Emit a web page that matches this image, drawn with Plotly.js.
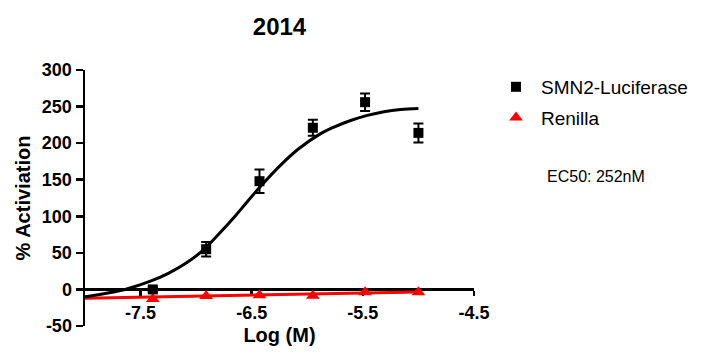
<!DOCTYPE html>
<html>
<head>
<meta charset="utf-8">
<script src="https://cdn.plot.ly/plotly-3.0.1.min.js"></script>
<style>html,body{margin:0;padding:0;background:#fff;}#chart{width:709px;height:354px;}</style>
</head>
<body>
<div id="chart"></div>
<script>
// Measured points (log molar dose)
const logDose = [-7.39, -6.91, -6.43, -5.95, -5.48, -5.0];
const smn2 = [0, 55, 148, 221, 256, 214];
const smn2Err = [3, 10, 16, 11, 12, 13];
const renilla = [-13, -9, -8, -8.5, -4, -4];

// Fitted curves
const smn2FitX = [-8.0, -7.64, -7.40, -7.25, -7.10, -6.95, -6.80, -6.65, -6.54, -6.42, -6.24, -6.08, -5.88, -5.76, -5.61, -5.46, -5.31, -5.16, -5.0];
const smn2FitY = [-10, 0, 12, 22, 35, 52, 75, 100, 120, 141, 170, 192, 213, 222, 231, 238, 243, 246, 247.5];
const renillaFitX = [-8.0, -7.0, -6.0, -5.0];
const renillaFitY = [-12, -9, -6, -3.5];

const xTicks = [-7.5, -6.5, -5.5, -4.5];
const yTicks = [-50, 0, 50, 100, 150, 200, 250, 300];

const FONT = 'Liberation Sans, Arial, sans-serif';

const traces = [
  {x: renillaFitX, y: renillaFitY, mode: 'lines', line: {color: '#ff0000', width: 3}, showlegend: false, hoverinfo: 'skip'},
  {x: logDose, y: renilla, mode: 'markers', name: 'Renilla', legendrank: 2, legendgroup: 'b',
   marker: {symbol: 'triangle-up', size: 12, color: '#ff0000'}},
  {x: smn2FitX, y: smn2FitY, mode: 'lines', line: {color: '#000000', width: 3, shape: 'spline', smoothing: 1}, showlegend: false, hoverinfo: 'skip'},
  {x: logDose, y: smn2, mode: 'markers', name: 'SMN2-Luciferase', legendrank: 1, legendgroup: 'a',
   marker: {symbol: 'square', size: 10, color: '#000000'},
   error_y: {type: 'data', array: smn2Err, visible: true, color: '#000000', thickness: 2, width: 5}}
];

const layout = {
  width: 709, height: 354,
  margin: {l: 85, r: 235, t: 70, b: 28},
  paper_bgcolor: '#ffffff', plot_bgcolor: '#ffffff',
  font: {family: FONT, color: '#000000'},
  title: {text: '<b>2014</b>', font: {size: 24, family: FONT, color: '#000'}, x: 0.5, xref: 'paper', xanchor: 'center', y: 1 - 27/354, yref: 'container', yanchor: 'middle'},
  showlegend: true,
  legend: {x: (491-85)/389, xanchor: 'left', y: 1.008, yanchor: 'top', font: {size: 19, family: FONT}, bgcolor: 'rgba(0,0,0,0)', tracegroupgap: 3, itemwidth: 40},
  xaxis: {
    range: [-8, -4.5], showgrid: false, zeroline: false, showline: true, linecolor: '#000', linewidth: 2.5,
    anchor: 'free', position: 50/350, layer: 'below traces',
    tickmode: 'array', tickvals: xTicks, ticktext: xTicks.map(v => v.toFixed(1)),
    ticks: 'outside', ticklen: 5, tickwidth: 2.5, tickcolor: '#000', ticklabelstandoff: 1,
    tickfont: {size: 18, family: FONT, weight: 'bold'},
    title: {text: '<b>Log (M)</b>', font: {size: 20, family: FONT}, standoff: 6},
    automargin: false
  },
  yaxis: {
    range: [-50, 300], showgrid: false, zeroline: false, showline: true, linecolor: '#000', linewidth: 2.5,
    tickmode: 'array', tickvals: yTicks, ticktext: yTicks.map(String),
    ticks: 'outside', ticklen: 7, tickwidth: 2.5, tickcolor: '#000',
    tickfont: {size: 18, family: FONT, weight: 'bold'},
    title: {text: '<b>% Activiation</b>', font: {size: 20, family: FONT}, standoff: 6},
    automargin: false
  },
  annotations: [
    {text: 'EC50: 252nM', xref: 'paper', yref: 'paper', x: (545-85)/389, y: (326-176)/256, xanchor: 'left', yanchor: 'middle', showarrow: false, font: {size: 16, family: FONT}}
  ]
};

Plotly.newPlot('chart', traces, layout, {displayModeBar: false, staticPlot: true});
</script>
</body>
</html>
